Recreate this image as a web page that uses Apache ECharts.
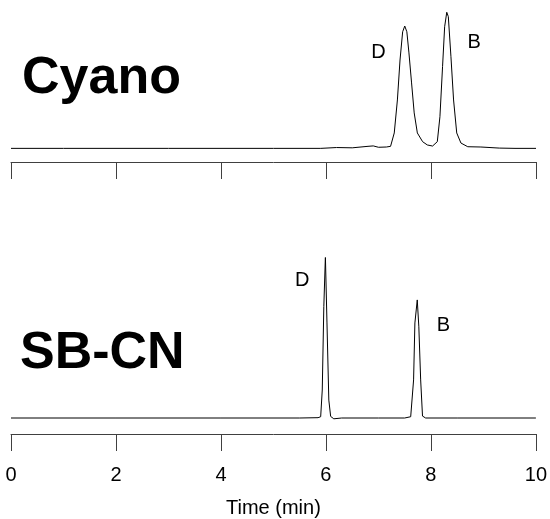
<!DOCTYPE html>
<html>
<head>
<meta charset="utf-8">
<script src="https://cdn.jsdelivr.net/npm/echarts@6/dist/echarts.min.js"></script>
<style>
  html, body { margin: 0; padding: 0; background: #fff; }
  #chart { width: 550px; height: 519px; }
</style>
</head>
<body>
<div id="chart"></div>
<script>
// chromatogram traces: [time (min), relative signal]
const cyanoTrace = [
  [0, 0], [1, 0], [2, 0], [3, 0], [4, 0], [5, 0], [5.9, 0], [6.2, 0.006], [6.5, 0.004],
  [6.8, 0.015], [6.9, 0.018], [7.0, 0.008], [7.15, 0.01], [7.23, 0.015],
  [7.30, 0.113], [7.36, 0.355], [7.41, 0.648], [7.46, 0.855], [7.50, 0.897], [7.54, 0.855],
  [7.58, 0.70], [7.63, 0.48], [7.68, 0.26], [7.74, 0.113], [7.84, 0.049], [7.93, 0.025],
  [8.03, 0.017], [8.12, 0.049], [8.17, 0.232], [8.22, 0.599], [8.26, 0.892], [8.30, 0.998],
  [8.33, 0.966], [8.38, 0.672], [8.43, 0.355], [8.49, 0.113], [8.57, 0.039], [8.70, 0.012],
  [8.95, 0.01], [9.3, 0.002], [9.6, 0], [10, 0]
]
const sbcnTrace = [
  [0, 0], [2, 0], [4, 0], [5.5, 0], [5.85, 0.002], [5.90, 0.008], [5.93, 0.175], [5.96, 0.696],
  [5.99, 1.01], [6.02, 0.594], [6.055, 0.112], [6.09, 0.01], [6.15, -0.005], [6.3, 0],
  [7.0, 0], [7.5, 0], [7.615, 0.008], [7.67, 0.238], [7.695, 0.594], [7.74, 0.738],
  [7.77, 0.57], [7.805, 0.238], [7.84, 0.012], [7.90, 0], [8.5, 0], [10, 0]
]
// peak labels: [text, time, signal]
const cyanoLabels = [['D', 7.0, 0.70], ['B', 8.82, 0.773]]
const sbcnLabels = [['D', 5.55, 0.862], ['B', 8.24, 0.581]]
const panelNames = ['Cyano', 'SB-CN']
const timeTicks = [0, 2, 4, 6, 8, 10]

const font = 'Liberation Sans'
const axisColor = '#404040'

function xAxisOf(gridIndex, showLabels) {
  return {
    type: 'value',
    gridIndex: gridIndex,
    min: timeTicks[0],
    max: timeTicks[timeTicks.length - 1],
    interval: timeTicks[1] - timeTicks[0],
    splitLine: { show: false },
    axisLine: { onZero: false, lineStyle: { color: axisColor, width: 1 } },
    axisTick: { length: 17, lineStyle: { color: axisColor } },
    axisLabel: { show: showLabels, margin: 31, fontSize: 20, color: '#000', fontFamily: font },
    name: showLabels ? 'Time (min)' : '',
    nameLocation: 'middle',
    nameGap: 64,
    nameTextStyle: { fontSize: 20, color: '#000', fontFamily: font }
  }
}

function yAxisOf(gridIndex, max) {
  return { type: 'value', gridIndex: gridIndex, min: -0.1, max: max, show: false }
}

function traceSeries(index, data, labels) {
  return {
    type: 'line',
    xAxisIndex: index,
    yAxisIndex: index,
    data: data,
    showSymbol: false,
    animation: false,
    lineStyle: { color: '#000', width: 1 },
    markPoint: {
      symbol: 'circle',
      symbolSize: 1,
      itemStyle: { color: 'rgba(0,0,0,0)' },
      label: {
        show: true,
        position: 'inside',
        fontSize: 20,
        color: '#000',
        fontFamily: font,
        formatter: p => p.name
      },
      data: labels.map(l => ({ name: l[0], coord: [l[1], l[2]] }))
    }
  }
}

const myChart = echarts.init(document.getElementById('chart'))
myChart.setOption({
  animation: false,
  backgroundColor: '#fff',
  grid: [
    { left: 11, right: 14, top: 12, height: 150 },
    { left: 11, right: 14, top: 258, height: 176 }
  ],
  xAxis: [xAxisOf(0, false), xAxisOf(1, true)],
  yAxis: [yAxisOf(0, 1.0), yAxisOf(1, 1.0)],
  series: [
    traceSeries(0, cyanoTrace, cyanoLabels),
    traceSeries(1, sbcnTrace, sbcnLabels)
  ],
  graphic: [
    {
      type: 'text', left: 22, top: 53,
      style: { text: panelNames[0], font: 'bold 52px "Liberation Sans"', fill: '#000' }
    },
    {
      type: 'text', left: 20, top: 328,
      style: { text: panelNames[1], font: 'bold 52px "Liberation Sans"', fill: '#000' }
    }
  ]
})
</script>
</body>
</html>
